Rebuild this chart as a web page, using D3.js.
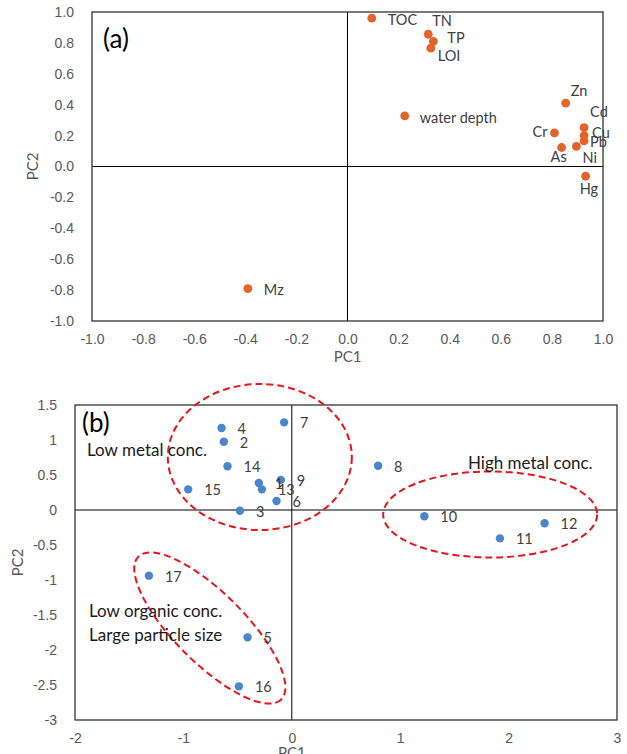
<!DOCTYPE html>
<html lang="en">
<head>
  <meta charset="UTF-8" />
  <title>PCA loadings and scores</title>
  <script src="https://d3js.org/d3.v7.min.js"></script>
  <style>
    body { margin: 0; background: #fff; font-family: "Lato", "Noto Sans", sans-serif; }
    .tick text { fill: #595959; font-size: 14px; }
    .lbl { fill: #404040; font-size: 14.5px; }
    .note { fill: #1a1a1a; font-size: 17px; }
  </style>
</head>
<body>
  <svg id="chart" width="627" height="754"></svg>
  <script>
    // (a) loadings
    const varNames = ["TOC", "TN", "TP", "LOI", "water depth", "Zn", "Cd", "Cu", "Pb", "Cr", "As", "Ni", "Hg", "Mz"];
    const loadPC1 = [0.095, 0.316, 0.336, 0.326, 0.224, 0.854, 0.926, 0.926, 0.926, 0.81, 0.838, 0.896, 0.932, -0.39];
    const loadPC2 = [0.96, 0.856, 0.81, 0.766, 0.328, 0.41, 0.252, 0.2, 0.166, 0.218, 0.123, 0.13, -0.063, -0.79];

    // (b) scores
    const sampleIds = ["1", "2", "3", "4", "5", "6", "7", "8", "9", "10", "11", "12", "13", "14", "15", "16", "17"];
    const scorePC1 = [-0.304, -0.627, -0.479, -0.648, -0.408, -0.141, -0.071, 0.796, -0.101, 1.223, 1.92, 2.332, -0.276, -0.593, -0.956, -0.488, -1.318];
    const scorePC2 = [0.386, 0.976, -0.01, 1.171, -1.819, 0.129, 1.252, 0.633, 0.43, -0.09, -0.405, -0.19, 0.295, 0.624, 0.295, -2.519, -0.938];

    const ticksA = [-1, -0.8, -0.6, -0.4, -0.2, 0, 0.2, 0.4, 0.6, 0.8, 1];
    const ticksBx = [-2, -1, 0, 1, 2, 3];
    const ticksBy = [-3, -2.5, -2, -1.5, -1, -0.5, 0, 0.5, 1, 1.5];

    // label placement for (a): [dx, dy, anchor]
    const labelPos = {
      "TOC": [16, 2, "start"], "TN": [4, -13, "start"], "TP": [14, -3, "start"], "LOI": [7, 8, "start"],
      "water depth": [15, 2, "start"], "Zn": [5, -12, "start"], "Cd": [6, -16, "start"], "Cu": [8, -3, "start"],
      "Pb": [6, 1, "start"], "Cr": [-7, -1, "end"], "As": [-11, 9, "start"], "Ni": [6, 12, "start"],
      "Hg": [-6, 13, "start"], "Mz": [16, 1, "start"]
    };

    const svg = d3.select("#chart");

    function panel(x, y, xTicks, yTicks, fmt) {
      const g = svg.append("g");
      const [x0, x1] = x.range();
      const [y0, y1] = y.range();

      g.append("line").attr("x1", x0).attr("x2", x1).attr("y1", y(0)).attr("y2", y(0))
        .attr("stroke", "#000").attr("stroke-width", 1);
      g.append("line").attr("x1", x(0)).attr("x2", x(0)).attr("y1", y0).attr("y2", y1)
        .attr("stroke", "#000").attr("stroke-width", 1);
      g.append("rect").attr("x", x0).attr("y", y1).attr("width", x1 - x0).attr("height", y0 - y1)
        .attr("fill", "none").attr("stroke", "#333").attr("stroke-width", 1.3);

      g.append("g").attr("transform", `translate(${x0},0)`)
        .call(d3.axisLeft(y).tickValues(yTicks).tickFormat(fmt).tickSize(0).tickPadding(18))
        .call(a => a.select(".domain").remove());
      g.append("g").attr("transform", `translate(0,${y0})`)
        .call(d3.axisBottom(x).tickValues(xTicks).tickFormat(fmt).tickSize(0).tickPadding(13))
        .call(a => a.select(".domain").remove());
      g.selectAll(".tick text").attr("font-family", null).attr("font-size", null);
      return g;
    }

    // ---- (a)
    const xA = d3.scaleLinear().domain([-1, 1]).range([92, 603]);
    const yA = d3.scaleLinear().domain([-1, 1]).range([321, 12]);
    const gA = panel(xA, yA, ticksA, ticksA, d => d.toFixed(1));

    gA.selectAll("circle.pt").data(varNames).join("circle")
      .attr("class", "pt")
      .attr("cx", (d, i) => xA(loadPC1[i]))
      .attr("cy", (d, i) => yA(loadPC2[i]))
      .attr("r", 4.4).attr("fill", "#E5622A");

    gA.selectAll("text.lbl").data(varNames).join("text")
      .attr("class", "lbl")
      .attr("x", (d, i) => xA(loadPC1[i]) + labelPos[d][0])
      .attr("y", (d, i) => yA(loadPC2[i]) + labelPos[d][1])
      .attr("dy", "0.35em")
      .attr("text-anchor", d => labelPos[d][2])
      .text(d => d);

    svg.append("text").attr("x", 103).attr("y", 39).attr("dy", "0.35em")
      .attr("font-size", 26).attr("fill", "#000").text("(a)");
    svg.append("text").attr("x", xA(0)).attr("y", 357).attr("dy", "0.35em")
      .attr("text-anchor", "middle").attr("font-size", 15).attr("fill", "#595959").text("PC1");
    svg.append("text").attr("transform", `translate(33,${yA(0)}) rotate(-90)`).attr("dy", "0.35em")
      .attr("text-anchor", "middle").attr("font-size", 15).attr("fill", "#595959").text("PC2");

    // ---- (b)
    const xB = d3.scaleLinear().domain([-2, 3]).range([75, 617]);
    const yB = d3.scaleLinear().domain([-3, 1.5]).range([720, 405]);
    const gB = panel(xB, yB, ticksBx, ticksBy, d => String(d));

    // group outlines: centre in data units, radii in px, rotation
    const groups = [
      { cx: -0.295, cy: 0.757, rx: 92, ry: 73, rot: 0 },
      { cx: 1.83, cy: -0.064, rx: 107, ry: 43, rot: 0 },
      { cx: -0.756, cy: -1.686, rx: 101, ry: 35, rot: 45 }
    ];
    gB.selectAll("ellipse").data(groups).join("ellipse")
      .attr("transform", d => `translate(${xB(d.cx)},${yB(d.cy)}) rotate(${d.rot})`)
      .attr("rx", d => d.rx).attr("ry", d => d.ry)
      .attr("fill", "none").attr("stroke", "#E8141A").attr("stroke-width", 2)
      .attr("stroke-dasharray", "7,4");

    gB.selectAll("circle.pt").data(sampleIds).join("circle")
      .attr("class", "pt")
      .attr("cx", (d, i) => xB(scorePC1[i]))
      .attr("cy", (d, i) => yB(scorePC2[i]))
      .attr("r", 4.2).attr("fill", "#4A86CB");

    gB.selectAll("text.lbl").data(sampleIds).join("text")
      .attr("class", "lbl")
      .attr("x", (d, i) => xB(scorePC1[i]) + 16)
      .attr("y", (d, i) => yB(scorePC2[i]) + 1)
      .attr("dy", "0.35em")
      .text(d => d);

    svg.append("text").attr("x", 82).attr("y", 423).attr("dy", "0.35em")
      .attr("font-size", 26).attr("fill", "#000").text("(b)");
    const notes = [
      ["Low metal conc.", 87, 450],
      ["High metal conc.", 468, 463],
      ["Low organic conc.", 89, 611],
      ["Large particle size", 89, 635]
    ];
    svg.selectAll("text.note").data(notes).join("text")
      .attr("class", "note")
      .attr("x", d => d[1]).attr("y", d => d[2]).attr("dy", "0.35em")
      .text(d => d[0]);
    svg.append("text").attr("x", xB(0)).attr("y", 758)
      .attr("text-anchor", "middle").attr("font-size", 15).attr("fill", "#595959").text("PC1");
    svg.append("text").attr("transform", `translate(18,${yB(-0.75)}) rotate(-90)`).attr("dy", "0.35em")
      .attr("text-anchor", "middle").attr("font-size", 15).attr("fill", "#595959").text("PC2");
  </script>
</body>
</html>
